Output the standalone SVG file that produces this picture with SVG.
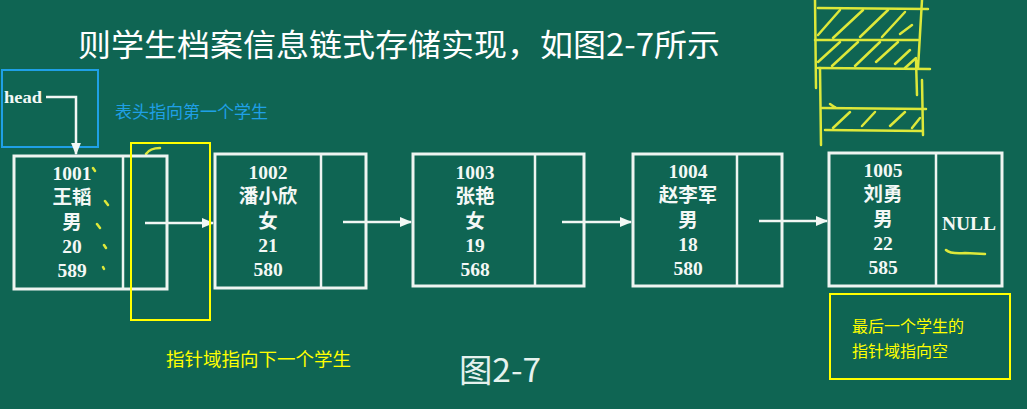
<svg xmlns="http://www.w3.org/2000/svg" width="1027" height="409" viewBox="0 0 1027 409">
<defs>
<marker id="ah" viewBox="0 0 10 10" refX="9" refY="5" markerWidth="5" markerHeight="5" orient="auto" markerUnits="strokeWidth">
<path d="M0,1 L10,5 L0,9 z" fill="#f2f7f4"/>
</marker>
<style>
.box{fill:none;stroke:#eef4f1;stroke-width:3}
.div{stroke:#eef4f1;stroke-width:2.5}
.nt{font-family:"Liberation Serif","Noto Sans CJK SC",serif;font-weight:bold;font-size:19.5px;fill:#f4f8f6;text-anchor:middle}
.conn{stroke:#f2f7f4;stroke-width:2.5;fill:none}
.sk{stroke:#dde83a;stroke-width:2.5;fill:none;stroke-linecap:round}
.yb{fill:none;stroke:#ffff00;stroke-width:2}
.yt{font-family:"Noto Sans CJK SC",sans-serif;fill:#ffff00}
</style>
</defs>
<rect width="1027" height="409" fill="#0f6553"/>
<text x="78" y="56" font-family="Noto Sans CJK SC, sans-serif" font-size="31" fill="#ffffff" textLength="642" lengthAdjust="spacingAndGlyphs">则学生档案信息链式存储实现，如图2-7所示</text>

<g id="sketch">
<path class="sk" d="M815,0 L816,88 M820,68 L821,145 M922,0 L918,68 M916,60 L917,95 M922,80 L923,135"/>
<path class="sk" d="M818,8 L928,9 M815,40 L918,40 M818,68 L930,69 M822,108 L926,109 M825,130 L922,131 M830,104 L836,108"/>
<path class="sk" d="M818,35 L840,10 M833,38 L863,10 M860,37 L888,10 M882,37 L905,12 M900,34 L912,25 M818,62 L840,42 M832,66 L858,42 M855,66 L880,42 M876,62 L898,42 M895,64 L910,50 M905,68 L916,58 M833,128 L850,112 M862,126 L875,112 M890,126 L905,112 M912,128 L920,118"/>
<path class="sk" d="M93,168 L95,171 M105,201 L108,205 M97,224 L100,228 M104,245 L106,248 M103,267 L104,269 M146,154 Q150,148 160,148 M946,250 Q950,254 965,253 L985,254"/>
</g>

<g id="head">
<rect x="2" y="70" width="96" height="77" fill="none" stroke="#1fa0e6" stroke-width="2"/>
<text x="4" y="103" font-family="Liberation Serif, serif" font-weight="bold" font-size="17" fill="#f4f8f6" textLength="38" lengthAdjust="spacingAndGlyphs">head</text>
<text x="115" y="118" font-family="Noto Sans CJK SC, sans-serif" font-size="17" fill="#1fa0e6">表头指向第一个学生</text>
</g>

<g id="connectors">
<path class="conn" d="M46,97 L76,97 L76,154" marker-end="url(#ah)"/>
<line class="conn" x1="145" y1="223" x2="213" y2="223" marker-end="url(#ah)"/>
<line class="conn" x1="343" y1="222" x2="411" y2="222" marker-end="url(#ah)"/>
<line class="conn" x1="562" y1="222" x2="631" y2="222" marker-end="url(#ah)"/>
<line class="conn" x1="759" y1="221" x2="827" y2="221" marker-end="url(#ah)"/>
</g>

<g id="n1">
<rect class="box" x="14" y="156" width="153" height="133"/>
<line class="div" x1="123" y1="156" x2="123" y2="289"/>
<text class="nt" x="72" y="180">1001</text>
<text class="nt" x="72" y="204">王韬</text>
<text class="nt" x="72" y="229">男</text>
<text class="nt" x="72" y="253">20</text>
<text class="nt" x="72" y="277">589</text>
</g>
<g id="n2">
<rect class="box" x="215" y="154" width="151" height="134"/>
<line class="div" x1="321" y1="154" x2="321" y2="288"/>
<text class="nt" x="268" y="179">1002</text>
<text class="nt" x="268" y="203">潘小欣</text>
<text class="nt" x="268" y="228">女</text>
<text class="nt" x="268" y="252">21</text>
<text class="nt" x="268" y="276">580</text>
</g>
<g id="n3">
<rect class="box" x="413" y="154" width="171" height="132"/>
<line class="div" x1="535" y1="154" x2="535" y2="286"/>
<text class="nt" x="475" y="179">1003</text>
<text class="nt" x="475" y="203">张艳</text>
<text class="nt" x="475" y="228">女</text>
<text class="nt" x="475" y="252">19</text>
<text class="nt" x="475" y="276">568</text>
</g>
<g id="n4">
<rect class="box" x="633" y="154" width="149" height="132"/>
<line class="div" x1="737" y1="154" x2="737" y2="286"/>
<text class="nt" x="688" y="178">1004</text>
<text class="nt" x="688" y="202">赵李军</text>
<text class="nt" x="688" y="227">男</text>
<text class="nt" x="688" y="251">18</text>
<text class="nt" x="688" y="275">580</text>
</g>
<g id="n5">
<rect class="box" x="829" y="153" width="173" height="133"/>
<line class="div" x1="936" y1="153" x2="936" y2="286"/>
<text class="nt" x="883" y="177">1005</text>
<text class="nt" x="883" y="201">刘勇</text>
<text class="nt" x="883" y="226">男</text>
<text class="nt" x="883" y="250">22</text>
<text class="nt" x="883" y="274">585</text>
<text class="nt" x="969" y="230" font-size="19">NULL</text>
</g>

<g id="ann1">
<rect class="yb" x="131" y="143" width="79" height="177"/>
<text class="yt" x="166" y="366" font-size="18.5">指针域指向下一个学生</text>
</g>
<g id="ann2">
<rect class="yb" x="830" y="294" width="180" height="85"/>
<text class="yt" x="852" y="332" font-size="16">最后一个学生的</text>
<text class="yt" x="852" y="357" font-size="16">指针域指向空</text>
</g>
<text id="caption" x="459" y="382" font-family="Noto Sans CJK SC, sans-serif" font-size="32" fill="#e6f2ee" textLength="82" lengthAdjust="spacingAndGlyphs">图2-7</text>
</svg>
